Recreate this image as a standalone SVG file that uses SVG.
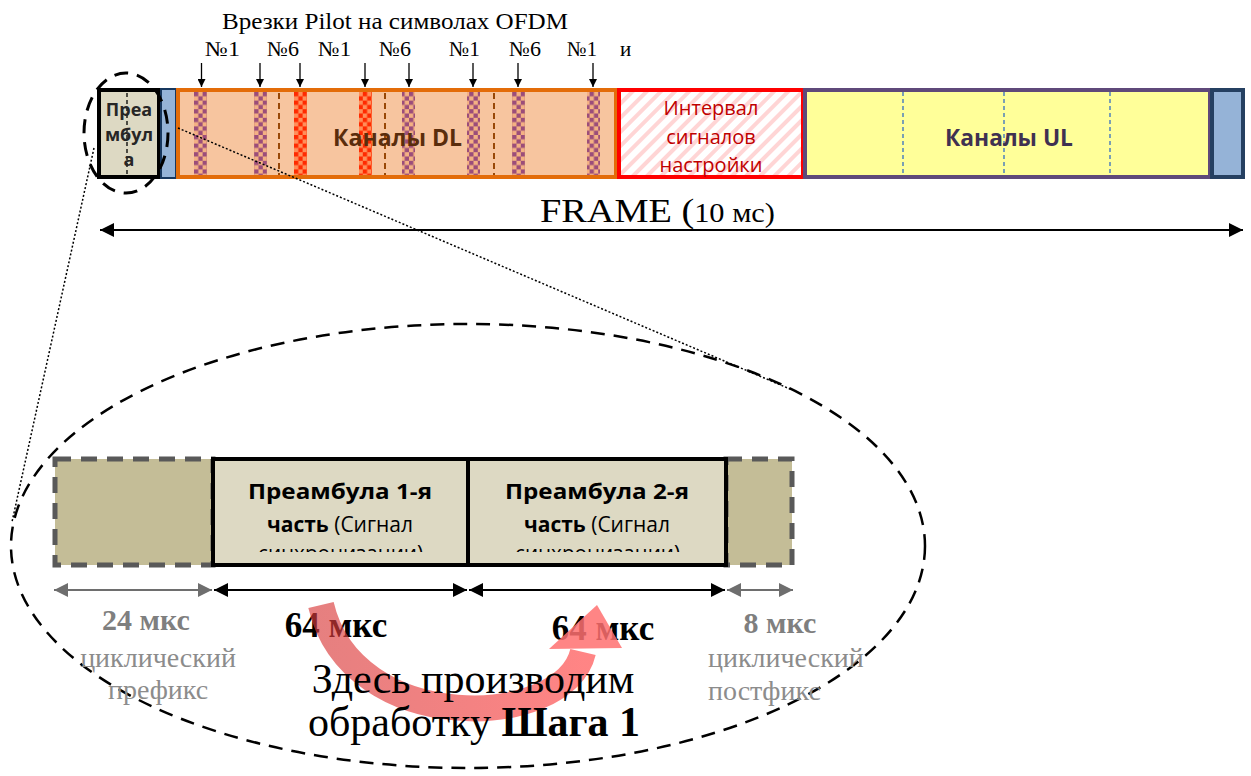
<svg xmlns="http://www.w3.org/2000/svg" width="1251" height="776" viewBox="0 0 1251 776">
<style>
.tnr{font-family:"Liberation Serif","Times New Roman",serif}
.cal{font-family:"Open Sans","Noto Sans",sans-serif}
.lbl{font-size:21px;fill:#000}
.b{font-weight:bold}
.dot{stroke:#000;stroke-width:1.5;stroke-dasharray:2 2;fill:none}
.pil{stroke:#000;stroke-width:1.3;marker-end:url(#ah)}
</style>
<defs>
<pattern id="chkP" width="8.6" height="8.6" patternUnits="userSpaceOnUse" x="194" y="92">
<rect width="8.6" height="8.6" fill="#F4B183"/>
<rect width="4.3" height="4.3" fill="#9B4D7A"/>
<rect x="4.3" y="4.3" width="4.3" height="4.3" fill="#9B4D7A"/>
</pattern>
<pattern id="chkR" width="8.6" height="8.6" patternUnits="userSpaceOnUse" x="294" y="92">
<rect width="8.6" height="8.6" fill="#FF8F5A"/>
<rect width="4.3" height="4.3" fill="#FF2A00"/>
<rect x="4.3" y="4.3" width="4.3" height="4.3" fill="#FF2A00"/>
</pattern>
<pattern id="hatch" width="10" height="10" patternUnits="userSpaceOnUse" patternTransform="rotate(45)">
<rect width="10" height="10" fill="#FFFFFF"/>
<rect width="4" height="10" fill="#FFD5D5"/>
</pattern>
<linearGradient id="arcG" x1="0" y1="0" x2="1" y2="0">
<stop offset="0" stop-color="#D93B3B" stop-opacity="0.65"/>
<stop offset="1" stop-color="#FF5555" stop-opacity="0.72"/>
</linearGradient>
<marker id="ah" viewBox="0 0 10 10" refX="10" refY="5" markerWidth="8" markerHeight="8" markerUnits="userSpaceOnUse" orient="auto">
<path d="M0,0 L10,5 L0,10 z" fill="#000"/>
</marker>
<marker id="aB" viewBox="0 0 10 10" refX="10" refY="5" markerWidth="14" markerHeight="14" markerUnits="userSpaceOnUse" orient="auto-start-reverse">
<path d="M0,0 L10,5 L0,10 z" fill="#000"/>
</marker>
<marker id="aG" viewBox="0 0 10 10" refX="10" refY="5" markerWidth="14" markerHeight="14" markerUnits="userSpaceOnUse" orient="auto-start-reverse">
<path d="M0,0 L10,5 L0,10 z" fill="#6E6E6E"/>
</marker>
<clipPath id="c1"><rect x="215" y="461" width="251" height="91"/></clipPath>
<clipPath id="c2"><rect x="470" y="461" width="254" height="91"/></clipPath>
</defs>

<g id="title">
<text class="tnr" x="222" y="29" font-size="23" textLength="346" lengthAdjust="spacingAndGlyphs">Врезки Pilot на символах OFDM</text>
</g>
<g id="pilot-labels" class="tnr lbl">
<text x="205" y="56" textLength="35" lengthAdjust="spacingAndGlyphs">№1</text>
<text x="267" y="56" textLength="32" lengthAdjust="spacingAndGlyphs">№6</text>
<text x="318" y="56" textLength="33" lengthAdjust="spacingAndGlyphs">№1</text>
<text x="379" y="56" textLength="32" lengthAdjust="spacingAndGlyphs">№6</text>
<text x="449" y="56" textLength="31" lengthAdjust="spacingAndGlyphs">№1</text>
<text x="509" y="56" textLength="32" lengthAdjust="spacingAndGlyphs">№6</text>
<text x="567" y="56" textLength="30" lengthAdjust="spacingAndGlyphs">№1</text>
<text x="620" y="56">и</text>
</g>

<g id="preamble-top">
<rect x="99" y="90" width="60" height="87" fill="#DDD9C3" stroke="#000" stroke-width="4"/>
<line x1="127" y1="93" x2="127" y2="175" stroke="#000" stroke-width="1.3" stroke-dasharray="4 3"/>
<g class="cal b" font-size="18" fill="#262626" text-anchor="middle">
<text x="129" y="116">Преа</text>
<text x="129" y="141">мбул</text>
<text x="129" y="166">а</text>
</g>
</g>
<g id="gap1">
<rect x="161" y="89" width="15" height="89" fill="#95B3D7" stroke="#17375E" stroke-width="2"/>
</g>
<g id="dl">
<rect x="178" y="90" width="438" height="87" fill="#F7C59F" stroke="#E36C09" stroke-width="4"/>
<g fill="url(#chkP)">
<rect x="194" y="92" width="13" height="83"/>
<rect x="254" y="92" width="13" height="83"/>
<rect x="402" y="92" width="13" height="83"/>
<rect x="467" y="92" width="13" height="83"/>
<rect x="512" y="92" width="13" height="83"/>
<rect x="587" y="92" width="13" height="83"/>
</g>
<g fill="url(#chkR)">
<rect x="294" y="92" width="13" height="83"/>
<rect x="359" y="92" width="13" height="83"/>
</g>
<g stroke="#984807" stroke-width="2" stroke-dasharray="6 4">
<line x1="279" y1="93" x2="279" y2="175"/>
<line x1="385" y1="93" x2="385" y2="175"/>
<line x1="494" y1="93" x2="494" y2="175"/>
</g>
<text class="cal b" x="333" y="146" font-size="24" fill="#5A2D0C" textLength="129" lengthAdjust="spacingAndGlyphs">Каналы DL</text>
</g>
<g id="interval">
<rect x="619" y="90" width="184" height="87" fill="url(#hatch)" stroke="#FF0000" stroke-width="4"/>
<g class="cal" font-size="20" fill="#C00000" text-anchor="middle">
<text x="711" y="115">Интервал</text>
<text x="711" y="144">сигналов</text>
<text x="711" y="172">настройки</text>
</g>
</g>
<g id="ul">
<rect x="805" y="90" width="405" height="87" fill="#FFFF99" stroke="#5F497A" stroke-width="4"/>
<g stroke="#4F81BD" stroke-width="1.5" stroke-dasharray="4 3">
<line x1="903" y1="92" x2="903" y2="175"/>
<line x1="1004" y1="92" x2="1004" y2="175"/>
<line x1="1110" y1="92" x2="1110" y2="175"/>
</g>
<text class="cal b" x="945" y="146" font-size="24" fill="#3F3151" textLength="128" lengthAdjust="spacingAndGlyphs">Каналы UL</text>
</g>
<g id="gap2">
<rect x="1212" y="90" width="31" height="87" fill="#95B3D7" stroke="#254061" stroke-width="4"/>
</g>

<g id="connectors">
<g class="pil">
<line x1="201.5" y1="63" x2="201.5" y2="87"/>
<line x1="260" y1="63" x2="260" y2="87"/>
<line x1="300" y1="63" x2="300" y2="87"/>
<line x1="365" y1="63" x2="365" y2="87"/>
<line x1="409" y1="63" x2="409" y2="87"/>
<line x1="473" y1="63" x2="473" y2="87"/>
<line x1="518" y1="63" x2="518" y2="87"/>
<line x1="593" y1="63" x2="593" y2="87"/>
</g>
<line x1="100" y1="230" x2="1243" y2="230" stroke="#000" stroke-width="2" marker-start="url(#aB)" marker-end="url(#aB)"/>
<line class="dot" x1="178" y1="128" x2="790" y2="389"/>
<line class="dot" x1="94" y1="148" x2="12" y2="522"/>
<ellipse cx="126" cy="133" rx="42" ry="60" fill="none" stroke="#000" stroke-width="3" stroke-dasharray="14 9"/>
<ellipse cx="468" cy="546" rx="457" ry="222" fill="none" stroke="#000" stroke-width="2.5" stroke-dasharray="14 9"/>
<line x1="54" y1="590" x2="212" y2="590" stroke="#6E6E6E" stroke-width="2" marker-start="url(#aG)" marker-end="url(#aG)"/>
<line x1="214" y1="590" x2="467" y2="590" stroke="#000" stroke-width="2" marker-start="url(#aB)" marker-end="url(#aB)"/>
<line x1="469" y1="590" x2="725" y2="590" stroke="#000" stroke-width="2" marker-start="url(#aB)" marker-end="url(#aB)"/>
<line x1="727" y1="590" x2="793" y2="590" stroke="#6E6E6E" stroke-width="2" marker-start="url(#aG)" marker-end="url(#aG)"/>
</g>

<g id="frame-label">
<text class="tnr" x="540" y="222" font-size="34" textLength="235" lengthAdjust="spacingAndGlyphs">FRAME (<tspan font-size="27">10 мс)</tspan></text>
</g>

<g id="prefix">
<rect x="55" y="459" width="158" height="106" fill="#C4BD97" stroke="#595959" stroke-width="5" stroke-dasharray="16 10"/>
</g>
<g id="postfix">
<rect x="726" y="459" width="66" height="106" fill="#C4BD97" stroke="#595959" stroke-width="5" stroke-dasharray="16 10"/>
</g>
<g id="preamble1">
<rect x="213" y="459" width="255" height="106" fill="#DDD9C3" stroke="#000" stroke-width="4"/>
<g class="cal" font-size="22" clip-path="url(#c1)" fill="#000">
<text x="248" y="499" class="b" textLength="184" lengthAdjust="spacingAndGlyphs">Преамбула 1-я</text>
<text x="267" y="532" textLength="146" lengthAdjust="spacingAndGlyphs"><tspan class="b">часть</tspan> (Сигнал</text>
<text x="258" y="561" textLength="165" lengthAdjust="spacingAndGlyphs">синхронизации)</text>
</g>
</g>
<g id="preamble2">
<rect x="468" y="459" width="258" height="106" fill="#DDD9C3" stroke="#000" stroke-width="4"/>
<g class="cal" font-size="22" clip-path="url(#c2)" fill="#000">
<text x="505" y="499" class="b" textLength="184" lengthAdjust="spacingAndGlyphs">Преамбула 2-я</text>
<text x="524" y="532" textLength="146" lengthAdjust="spacingAndGlyphs"><tspan class="b">часть</tspan> (Сигнал</text>
<text x="515" y="561" textLength="165" lengthAdjust="spacingAndGlyphs">синхронизации)</text>
</g>
</g>

<g id="dim-labels" class="tnr">
<text x="146" y="630" font-size="30" font-weight="bold" fill="#7F7F7F" text-anchor="middle">24 мкс</text>
<text x="158" y="667" font-size="28" fill="#8C8C8C" text-anchor="middle">циклический</text>
<text x="158" y="699" font-size="28" fill="#8C8C8C" text-anchor="middle">префикс</text>
<text x="336" y="637" font-size="35" font-weight="bold" fill="#000" text-anchor="middle">64 мкс</text>
<text x="603" y="640" font-size="35" font-weight="bold" fill="#000" text-anchor="middle">64 мкс</text>
<text x="780" y="633" font-size="30" font-weight="bold" fill="#7F7F7F" text-anchor="middle">8 мкс</text>
<text x="708" y="667" font-size="28" fill="#8C8C8C">циклический</text>
<text x="708" y="700" font-size="28" fill="#8C8C8C">постфикс</text>
</g>

<g id="arc-arrow">
<path d="M321,605 C352,738 565,730 583,652" fill="none" stroke="url(#arcG)" stroke-width="26"/>
<path d="M549,649 L597,605 L622,648 z" fill="#FF7070" fill-opacity="0.85"/>
</g>

<g id="step-text" class="tnr" font-size="42" fill="#000" text-anchor="middle">
<text x="473" y="693">Здесь производим</text>
<text x="474" y="736">обработку <tspan font-weight="bold">Шага 1</tspan></text>
</g>
</svg>
